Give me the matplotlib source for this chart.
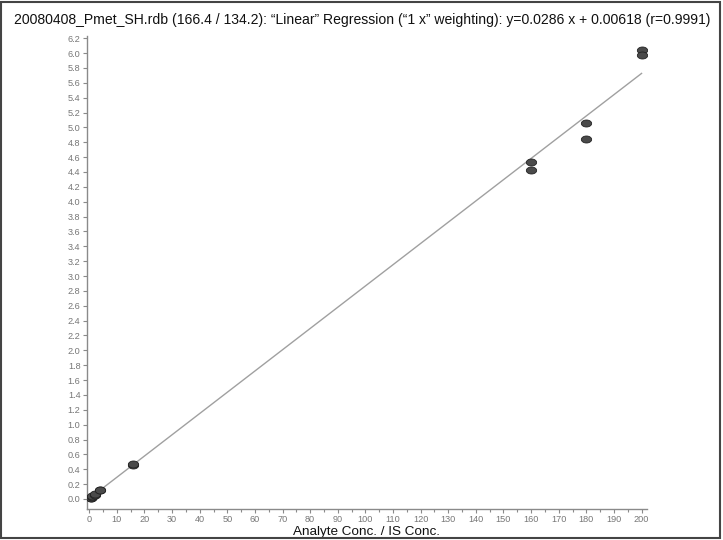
"""
Calibration curve: analyte / IS ratio vs concentration with linear fit.
"""

import matplotlib.pyplot as plt
import numpy as np
from matplotlib.patches import Rectangle
from matplotlib.ticker import MultipleLocator

plt.rcParams['font.family'] = ['Liberation Sans', 'DejaVu Sans']

# Data
conc = [0.5, 0.5, 1, 1, 2, 2, 4, 4, 16, 16, 160, 160, 180, 180, 200, 200]
ratio = [0.015, 0.018, 0.03, 0.034, 0.058, 0.064, 0.118, 0.124, 0.46, 0.47,
         4.54, 4.43, 5.06, 4.84, 6.04, 5.97]
slope = 0.0286
intercept = 0.00618
fit_x = [0, 200]

title = ('20080408_Pmet_SH.rdb (166.4 / 134.2): \u201cLinear\u201d Regression '
         '(\u201c1 x\u201d weighting): y=0.0286 x + 0.00618 (r=0.9991)')

# flat ellipse marker, like the instrument software draws
t = np.linspace(0, 2 * np.pi, 40)
ellipse = np.column_stack([np.cos(t), 0.68 * np.sin(t)])

fig = plt.figure(figsize=(7.23, 5.4), dpi=100)
ax = fig.add_axes([0.12, 0.0574, 0.775, 0.876])

fit_y = [slope * x + intercept for x in fit_x]
ax.plot(fit_x, fit_y, color='#a0a0a0', lw=1.0, zorder=2)
ax.scatter(conc, ratio, s=55, marker=ellipse, color='#4a4a4a',
           edgecolors='#222222', linewidths=0.6, zorder=3)

ax.set_xlim(-0.9, 202)
ax.set_ylim(-0.135, 6.23)
ax.xaxis.set_major_locator(MultipleLocator(10))
ax.xaxis.set_minor_locator(MultipleLocator(5))
ax.yaxis.set_major_locator(MultipleLocator(0.2))
ax.yaxis.set_major_formatter(plt.FuncFormatter(lambda v, p: '%.1f' % v))

for side in ['top', 'right']:
    ax.spines[side].set_visible(False)
for side in ['left', 'bottom']:
    ax.spines[side].set_color('#8a8a8a')
    ax.spines[side].set_linewidth(1.0)

ax.tick_params(axis='both', which='major', labelsize=6.6, colors='#8a8a8a',
               labelcolor='#777777', length=3, width=0.8, pad=1.5)
ax.tick_params(axis='x', which='minor', colors='#8a8a8a', length=2, width=0.8)

ax.set_xlabel('Analyte Conc. / IS Conc.', fontsize=9.7, color='#111111',
              labelpad=1)

fig.text(0.019, 0.963, title, fontsize=10.05, color='#111111',
         ha='left', va='center')

# frame around the whole picture
fig.patches.append(Rectangle((0.002, 0.003), 0.9945, 0.994,
                             transform=fig.transFigure, fill=False,
                             edgecolor='#444444', lw=1.5))

fig.savefig('out.png', dpi=100)
